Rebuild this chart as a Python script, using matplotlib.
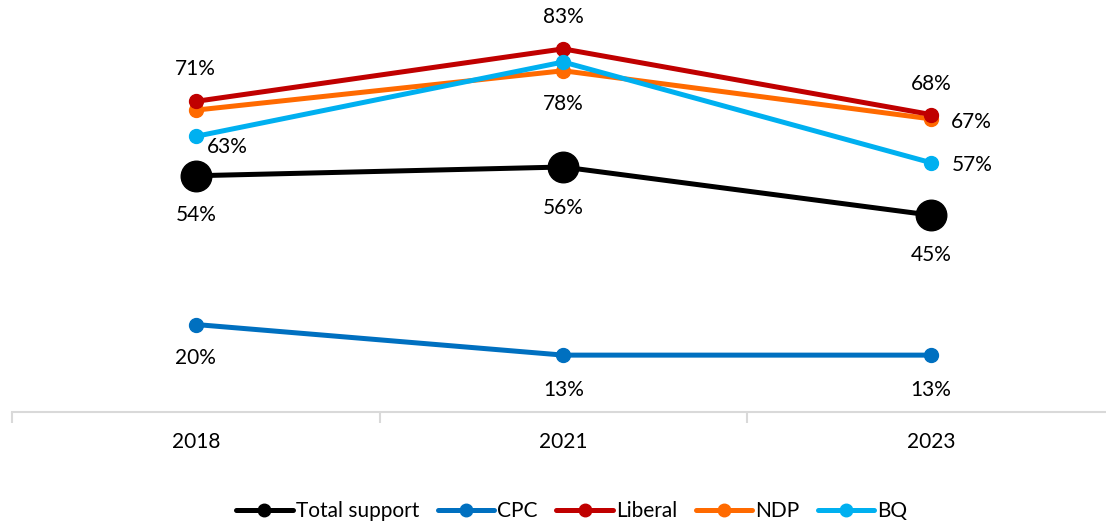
import matplotlib
matplotlib.use("Agg")
import matplotlib.pyplot as plt
from matplotlib.lines import Line2D

years = ["2018", "2021", "2023"]
total_support = [54, 56, 45]
cpc = [20, 13, 13]
liberal = [71, 83, 68]
ndp = [69, 78, 67]
bq = [63, 80, 57]

plt.rcParams['font.family'] = ['Lato', 'DejaVu Sans']

fig = plt.figure(figsize=(11.06, 5.23), dpi=100)
W, H = 1106, 523
ax = fig.add_axes([12 / W, 1 - 412 / H, (W - 12) / W, 412 / H])

x = list(range(len(years)))
series = [
    ("Total support", total_support, "#000000", 22),
    ("CPC", cpc, "#0070C0", 10),
    ("Liberal", liberal, "#C00000", 10),
    ("NDP", ndp, "#FF6A00", 10),
    ("BQ", bq, "#00B0F0", 10),
]
order = [1, 3, 2, 4, 0]
for i in order:
    name, vals, col, ms = series[i]
    ax.plot(x, vals, color=col, lw=3.6, marker="o", markersize=ms,
            solid_capstyle="round", zorder=3 + (i == 0))

ax.set_xlim(-0.5, -0.5 + (W - 12) / 367.5)
ax.set_ylim(0, 412 / 4.375)

for s in ["top", "right", "left"]:
    ax.spines[s].set_visible(False)
ax.spines["bottom"].set_color("#D9D9D9")
ax.spines["bottom"].set_linewidth(1.5)
ax.set_yticks([])
ax.set_xticks([-0.5, 0.5, 1.5])
ax.set_xticklabels([])
ax.tick_params(axis="x", length=8, width=1.5, color="#D9D9D9", direction="out")
fs = 15
for xi, lab_ in zip(x, years):
    ax.annotate(lab_, (xi, 0), xytext=(0, -30), textcoords="offset pixels",
                ha="center", va="center", fontsize=fs, color="#000000")

def lab(xi, v, dx, dy):
    ax.annotate(f"{v}%", (xi, v), xytext=(dx, dy), textcoords="offset pixels",
                ha="center", va="center", fontsize=fs, color="#000000")

# 2018
lab(0, liberal[0], 0, 32)
lab(0, bq[0], 32, -11)
lab(0, total_support[0], 0, -39)
lab(0, cpc[0], 0, -34)
# 2021
lab(1, liberal[1], 0, 32)
lab(1, ndp[1], 0, -33)
lab(1, total_support[1], 0, -41)
lab(1, cpc[1], 0, -35)
# 2023
lab(2, liberal[2], 0, 31)
lab(2, ndp[2], 41, -3)
lab(2, bq[2], 41, -2)
lab(2, total_support[2], 0, -40)
lab(2, cpc[2], 0, -35)

names = [s[0] for s in series]
proxies = [Line2D([], [], color=s[2], lw=3.6, marker="o", markersize=9,
                  solid_capstyle="round") for s in series]
fig.legend(proxies, names, loc="center",
           bbox_to_anchor=(572 / W, 1 - 511 / H), ncol=5, frameon=False,
           fontsize=fs, handlelength=2.7, columnspacing=0.9,
           handletextpad=0.15, borderaxespad=0)

fig.savefig("out.png", dpi=100)
